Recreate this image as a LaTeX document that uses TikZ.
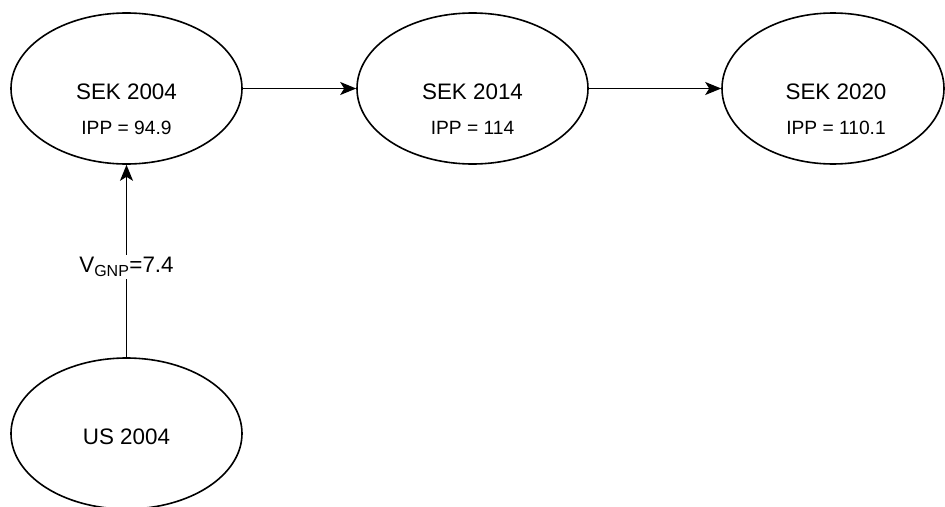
\documentclass[tikz,border=0pt]{standalone}
\usepackage{fontspec}
\setmainfont{Liberation Sans}
\usetikzlibrary{shapes.geometric,arrows.meta}

\tikzset{
  state/.style={draw=black, line width=1.6pt, ellipse, inner sep=0pt,
                minimum width=231pt, minimum height=151pt},
  title/.style={font=\fontsize{22.4}{26}\selectfont, inner sep=0pt},
  value/.style={font=\fontsize{19.2}{23}\selectfont, inner sep=0pt},
  flow/.style={line width=1.6pt,
               -{Stealth[length=16pt, width=13pt, inset=4pt]}},
}

\begin{document}
\begin{tikzpicture}[x=1pt, y=-1pt]
  \useasboundingbox (0,0) rectangle (945,506);
  \clip (0,0) rectangle (945,506);

  % currency-year states
  \node[state] (s04) at (126.5,88.5) {};
  \node[state] (s14) at (472.5,88.5) {};
  \node[state, minimum width=222pt] (s20) at (833,88.5) {};
  \node[state] (us04) at (126.5,433.5) {};

  % state captions
  \node[title] (t04) at (126.5,92) {SEK 2004};
  \node[value] (v04) at (126.5,128) {IPP = 94.9};
  \node[title] (t14) at (472.5,92) {SEK 2014};
  \node[value] (v14) at (472.5,128) {IPP = 114};
  \node[title] (t20) at (836,92) {SEK 2020};
  \node[value] (v20) at (836,128) {IPP = 110.1};
  \node[title] (tus) at (126.5,437) {US 2004};

  % transitions
  \draw[flow] (s04) -- (s14);
  \draw[flow] (s14) -- (s20);
  \draw[flow] (us04) -- node[pos=0.47, fill=white, inner sep=2pt,
      font=\fontsize{22.4}{26}\selectfont] (gnp)
      {V\textsubscript{\fontsize{16}{18}\selectfont GNP}=7.4} (s04);
\end{tikzpicture}
\end{document}
